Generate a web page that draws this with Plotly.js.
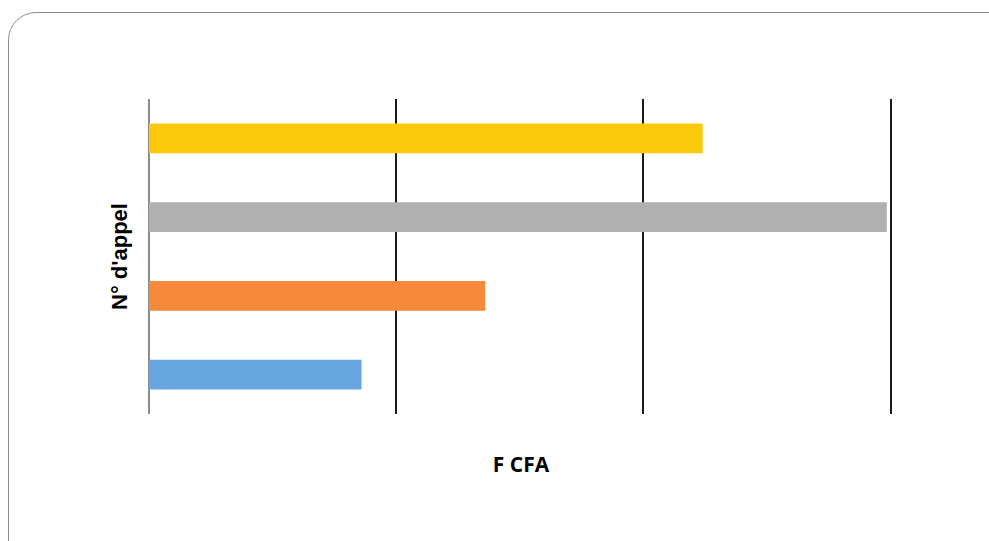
<!DOCTYPE html>
<html>
<head>
<meta charset="utf-8">
<script src="https://cdn.plot.ly/plotly-3.0.1.min.js"></script>
<style>
  html, body { margin: 0; padding: 0; background: #ffffff; overflow: hidden; }
  #frame { position: absolute; left: 8px; top: 12px; width: 1010px; height: 580px;
           border: 1.5px solid #8c8c8c; border-radius: 28px; box-sizing: border-box; }
  #chart { position: absolute; left: 0; top: 0; width: 989px; height: 541px; }
</style>
</head>
<body>
<div id="frame"></div>
<div id="chart"></div>
<script>
// Data (bottom to top)
const categories = ["1", "2", "3", "4"];
const values = [86000, 136000, 298500, 224000];
const barColors = ["#68A6E0", "#F7893B", "#B0B0B0", "#FDC90C"];
const xTitle = "F CFA";
const yTitle = "N° d'appel";

const trace = {
  type: "bar",
  orientation: "h",
  y: categories,
  x: values,
  marker: { color: barColors },
  hoverinfo: "x"
};

const layout = {
  width: 989,
  height: 541,
  margin: { l: 149, r: 96, t: 99, b: 127 },
  paper_bgcolor: "rgba(0,0,0,0)",
  plot_bgcolor: "rgba(0,0,0,0)",
  showlegend: false,
  bargap: 0.62,
  xaxis: {
    range: [0, 301000],
    tick0: 0,
    dtick: 100000,
    showgrid: true,
    gridcolor: "#1a1a1a",
    gridwidth: 2,
    zeroline: true,
    zerolinecolor: "#8c8c8c",
    zerolinewidth: 2,
    showline: false,
    ticks: "",
    showticklabels: false,
    title: { text: xTitle, standoff: 43,
             font: { family: "Open Sans", size: 21, color: "#000000", weight: "bold" } }
  },
  yaxis: {
    type: "category",
    showgrid: false,
    zeroline: false,
    showline: false,
    ticks: "",
    showticklabels: false,
    title: { text: yTitle, standoff: 14,
             font: { family: "Liberation Sans", size: 22, color: "#000000", weight: "bold" } }
  }
};

Plotly.newPlot("chart", [trace], layout, { displayModeBar: false, staticPlot: true });
</script>
</body>
</html>
